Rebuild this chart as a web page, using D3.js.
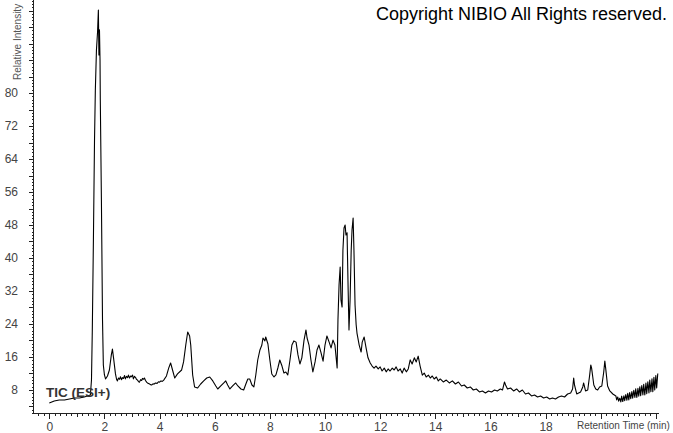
<!DOCTYPE html>
<html>
<head>
<meta charset="utf-8">
<script src="https://cdn.jsdelivr.net/npm/d3@7"></script>
<style>
  html, body { margin: 0; padding: 0; background: #fff; }
  svg { display: block; }
  text { font-family: "Liberation Sans", Arial, sans-serif; }
</style>
</head>
<body>
<svg id="chart" width="673" height="433"></svg>
<script>
// Retention time (min)
const times = [
  0.00,0.18,0.36,0.55,0.73,0.91,1.09,1.27,1.38,1.49,1.53,1.56,1.60,1.64,1.67,1.71,1.75,1.78,1.80,1.82,1.84,1.85,1.89,1.93,1.96,2.00,2.04,2.11,2.18,2.25,2.29,2.33,
  2.40,2.44,2.47,2.51,2.55,2.58,2.62,2.65,2.69,2.73,2.76,2.80,2.84,2.87,2.91,2.95,2.98,3.02,3.05,3.09,3.13,3.16,3.20,3.24,3.27,3.31,3.35,3.38,3.42,3.45,3.49,3.53,3.56,3.62,3.67,3.71,3.76,3.80,3.85,3.91,3.96,4.00,4.05,4.10,4.15,
  4.25,4.33,4.40,4.47,4.55,4.65,4.80,4.87,4.95,5.02,5.09,5.13,5.20,5.27,5.38,5.49,5.60,5.71,5.82,5.93,6.04,6.11,6.22,6.33,6.40,6.47,6.55,6.65,6.76,6.84,6.95,7.05,7.13,7.20,7.27,7.35,7.42,7.49,7.56,7.64,7.71,7.75,7.82,7.85,7.93,8.00,8.07,8.15,8.22,8.29,8.36,8.44,8.51,8.58,8.65,8.73,8.80,8.87,8.95,9.02,9.09,9.16,9.24,9.31,9.35,9.42,9.49,9.56,9.64,9.71,9.78,9.85,9.93,10.00,10.07,10.15,10.22,10.29,10.36,10.44,10.47,10.51,10.55,10.58,10.62,10.65,10.69,10.73,10.76,10.80,10.84,10.87,10.91,10.95,10.98,11.02,11.05,11.09,11.13,11.16,11.24,11.31,11.35,11.42,11.49,11.56,11.64,11.71,11.78,11.85,11.93,12.00,12.07,12.15,12.22,12.29,12.36,12.44,12.51,12.58,12.65,12.73,12.80,12.87,12.95,13.02,13.09,13.16,13.24,13.31,13.38,13.45,13.53,13.60,13.67,13.75,13.82,13.89,13.96,14.04,14.11,14.18,14.29,14.40,14.51,14.62,14.73,14.84,14.95,15.05,15.16,15.27,15.38,15.49,15.60,15.71,15.82,15.93,16.04,16.15,16.25,16.36,16.44,16.51,16.55,16.62,16.73,16.84,16.95,17.05,17.16,17.27,17.38,17.49,17.60,17.71,17.82,17.93,18.04,18.15,18.25,18.36,18.47,18.58,18.69,18.80,18.91,18.98,19.02,19.05,19.13,19.20,19.27,19.35,19.38,19.45,19.53,19.60,19.64,19.67,19.75,19.82,19.89,19.96,20.04,20.11,20.15,20.18,20.25,20.33,20.44,20.55,
  20.58,20.62,20.65,20.69,20.73,20.76,20.80,20.84,20.87,20.91,20.95,20.98,21.02,21.05,21.09,21.13,21.16,21.20,21.24,21.27,21.31,21.35,21.38,21.42,21.45,21.49,21.53,21.56,21.60,21.64,21.67,21.71,21.75,21.78,21.82,21.86,21.89,21.93,21.96,22.00,22.03,22.07
];
// Relative intensity
const intensity = [
  4.85,5.33,5.58,5.58,5.82,6.06,6.06,6.30,6.55,6.79,10.42,22.55,44.4,68.6,80.7,90.4,94.8,100.1,89.2,95.3,88.0,78.3,54.1,25.0,14.06,11.64,10.67,11.4,12.85,16.5,17.9,15.8,
  11.9,10.6,10.2,10.9,10.6,11.2,10.5,11.0,10.8,11.5,10.7,11.3,11.0,11.6,10.9,11.4,11.2,11.6,10.7,11.3,11.0,10.6,10.4,10.0,9.9,10.5,10.3,10.8,10.6,10.9,10.3,9.9,9.7,9.5,9.3,9.2,9.5,9.4,9.7,9.6,10.0,9.9,10.2,10.1,10.4,
  11.4,13.3,14.55,12.85,10.9,11.9,12.85,14.8,18.9,22.06,21.1,18.9,11.64,8.73,8.48,9.45,10.2,10.9,11.15,10.2,8.97,8.24,8.97,9.7,10.2,9.21,8.24,8.97,9.7,8.97,8.24,8.0,9.45,10.67,10.67,9.21,8.73,11.64,15.27,17.7,18.9,20.6,19.9,20.85,19.15,15.27,11.88,11.15,11.64,13.33,15.27,13.8,12.12,12.36,11.64,15.27,18.9,19.9,19.6,16.5,14.3,15.8,20.1,22.55,20.6,18.9,15.27,12.36,14.8,17.7,18.9,17.2,15.0,18.9,21.1,19.6,18.2,20.1,18.9,13.33,25.0,33.5,37.8,29.8,28.1,41.9,47.3,48.0,45.6,46.1,32.2,22.55,29.8,41.9,46.8,49.7,41.9,28.6,23.8,21.8,18.9,17.2,19.6,20.85,18.2,15.8,14.55,13.8,13.3,13.8,13.1,13.6,12.6,13.3,12.4,13.1,12.6,13.3,12.85,13.6,12.6,13.1,12.1,13.3,12.4,13.1,15.3,14.3,15.8,14.8,16.2,13.8,11.6,12.1,11.15,11.6,10.9,11.4,10.67,11.15,10.2,10.67,9.94,10.4,9.7,10.2,9.45,9.94,8.97,9.21,8.48,8.73,8.0,8.24,7.52,7.76,7.27,7.76,7.52,8.0,7.76,8.24,8.0,9.94,9.21,8.24,8.48,7.76,8.24,7.52,8.0,7.03,7.27,6.55,6.79,6.30,6.55,6.06,6.30,5.82,6.06,5.82,6.30,6.55,6.30,7.03,7.27,8.24,10.9,9.21,7.03,7.27,7.52,8.73,9.7,7.76,8.0,11.6,14.06,13.3,9.21,8.24,8.0,8.73,8.97,12.36,15.0,13.3,8.97,7.76,7.03,6.55,
  5.6,6.3,5.3,6.0,5.1,6.5,5.2,6.6,5.4,6.9,5.5,7.2,5.6,7.4,5.9,7.6,6.0,7.9,6.2,8.3,6.2,8.4,6.5,8.8,6.6,9.1,6.8,9.4,6.8,9.7,7.1,10.0,7.3,10.4,7.6,10.7,7.6,11.1,8.0,11.5,8.5,12.0
];
// Labelled ticks
const xTickLabels = [0, 2, 4, 6, 8, 10, 12, 14, 16, 18];
const yTickLabels = [8, 16, 24, 32, 40, 48, 56, 64, 72, 80];

const svg = d3.select("#chart");

const x = d3.scaleLinear().domain([0, 10]).range([49.3, 325]);
const y = d3.scaleLinear().domain([2.42, 102.55]).range([413, 0]);

const axisY0 = 34;   // left axis line position
const axisX0 = 413;  // bottom axis line position

// X minor / medium ticks (every 0.2 min)
const xMinor = d3.range(-2, 111).map(i => +(i * 0.2).toFixed(2));
const xg = svg.append("g").attr("transform", `translate(0,${axisX0})`);
xg.call(d3.axisBottom(x).tickValues(xMinor.filter(v => Math.abs(v - Math.round(v)) > 1e-6)).tickSize(3).tickFormat("").tickSizeOuter(0));
xg.append("g").call(d3.axisBottom(x).tickValues(d3.range(0, 23).filter(v => v % 2 === 1)).tickSize(4).tickFormat("").tickSizeOuter(0));
xg.append("g").call(d3.axisBottom(x).tickValues(d3.range(0, 23, 2)).tickSize(6).tickFormat(d => xTickLabels.includes(d) ? d : "").tickSizeOuter(0).tickPadding(3));
xg.selectAll(".domain").remove();
xg.selectAll(".tick line").attr("stroke", "#222").attr("shape-rendering", "crispEdges");
xg.selectAll(".tick text").attr("font-size", 12).attr("fill", "#444").attr("font-family", "Liberation Sans, Arial, sans-serif");
xg.append("line").attr("x1", axisY0).attr("x2", x(22.1)).attr("y1", 0.5).attr("y2", 0.5)
  .attr("stroke", "#222").attr("shape-rendering", "crispEdges");

// Y ticks (every 0.8)
const yMinor = d3.range(3, 129).map(i => +(i * 0.8).toFixed(2));
const yg = svg.append("g").attr("transform", `translate(${axisY0},0)`);
yg.call(d3.axisLeft(y).tickValues(yMinor.filter(v => Math.abs(v / 4 - Math.round(v / 4)) > 1e-6)).tickSize(2).tickFormat("").tickSizeOuter(0));
yg.append("g").call(d3.axisLeft(y).tickValues(d3.range(4, 103, 4)).tickSize(5).tickFormat(d => yTickLabels.includes(d) ? d : "").tickSizeOuter(0).tickPadding(11));
yg.selectAll(".domain").remove();
yg.selectAll(".tick line").attr("stroke", "#222").attr("shape-rendering", "crispEdges");
yg.selectAll(".tick text").attr("font-size", 12).attr("fill", "#444").attr("font-family", "Liberation Sans, Arial, sans-serif");
yg.append("line").attr("x1", -0.5).attr("x2", -0.5).attr("y1", 0).attr("y2", axisX0)
  .attr("stroke", "#222").attr("shape-rendering", "crispEdges");

// Axis titles
svg.append("text")
  .attr("transform", `translate(21,80) rotate(-90)`)
  .attr("font-size", 10).attr("fill", "#555")
  .text("Relative Intensity");

svg.append("text")
  .attr("x", 577).attr("y", 429)
  .attr("font-size", 10).attr("fill", "#444")
  .text("Retention Time (min)");

// Chromatogram
const data = times.map((t, i) => [t, intensity[i]]);
svg.append("path")
  .datum(data)
  .attr("fill", "none")
  .attr("stroke", "#000")
  .attr("stroke-width", 1.1)
  .attr("stroke-linejoin", "round")
  .attr("d", d3.line().x(d => x(d[0])).y(d => y(d[1])));

// Trace label
svg.append("text")
  .attr("x", 46).attr("y", 397)
  .attr("font-size", 13.5).attr("font-weight", "bold").attr("fill", "#333")
  .text("TIC (ESI+)");

// Copyright
svg.append("text")
  .attr("x", 376).attr("y", 20)
  .attr("font-size", 18).attr("fill", "#000")
  .text("Copyright NIBIO All Rights reserved.");
</script>
</body>
</html>
